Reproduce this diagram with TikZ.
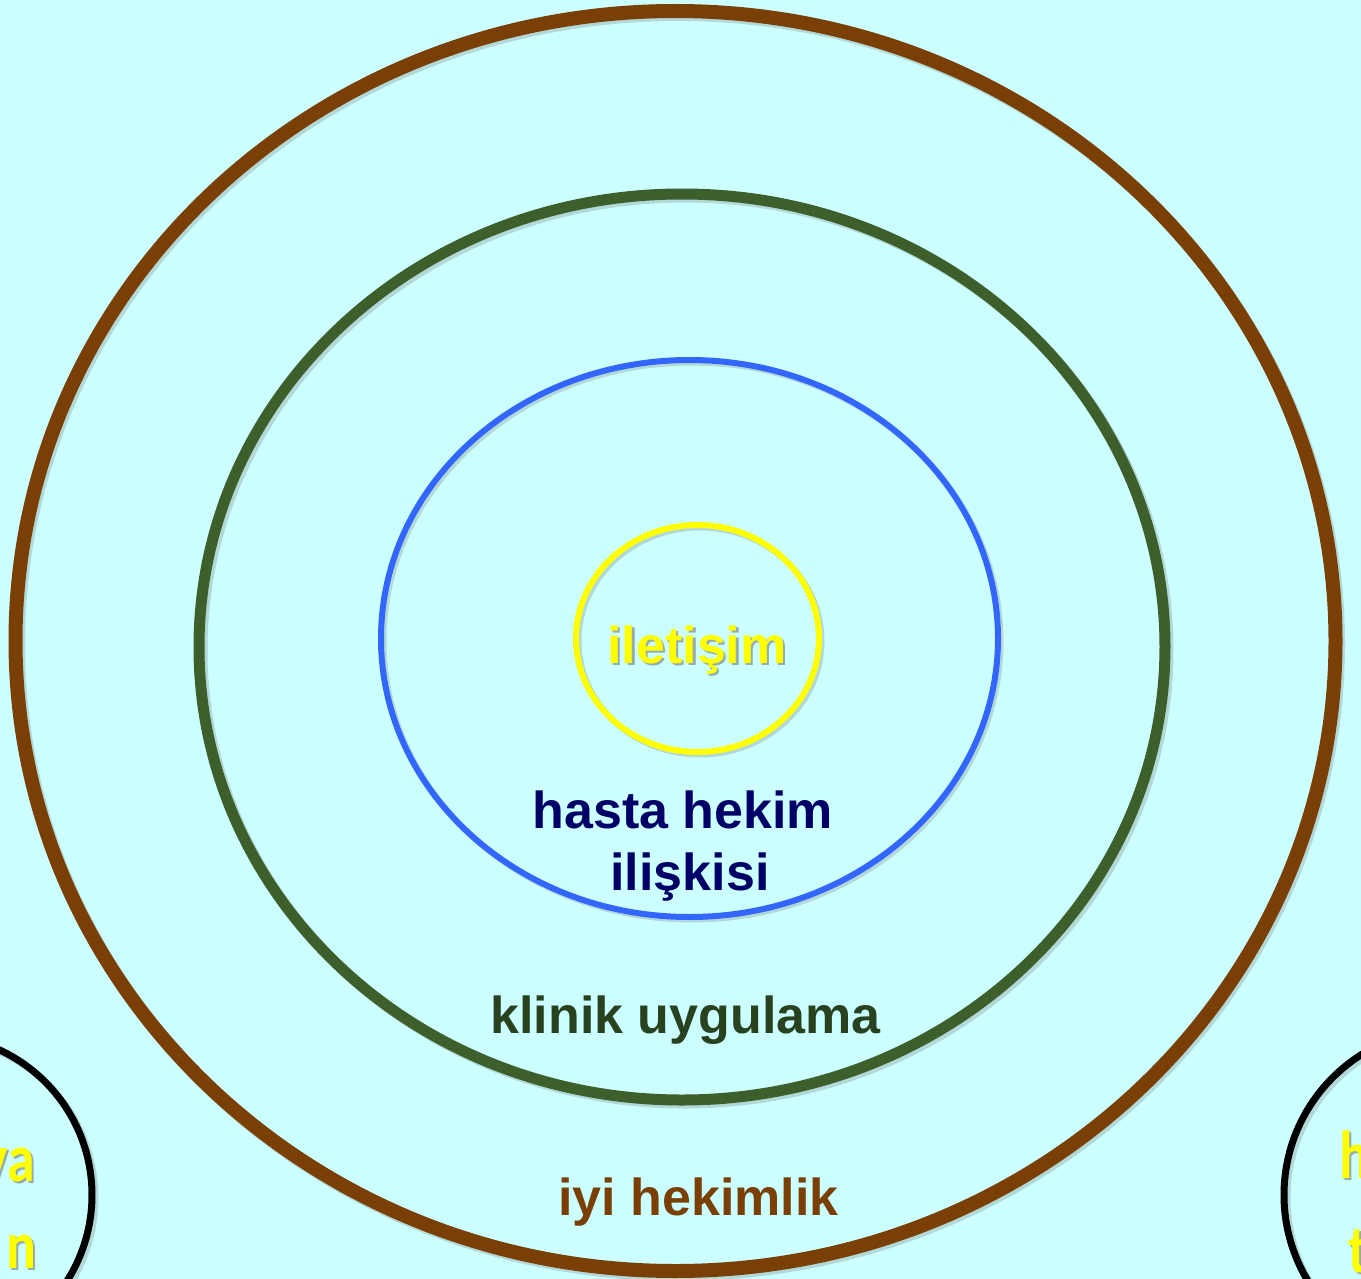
\documentclass[tikz,border=0pt]{standalone}
\usepackage{fontspec}
\setmainfont{Liberation Sans}
\newfontfamily\sidefont{Carlito}
\definecolor{bgcyan}{HTML}{CCFFFF}
\definecolor{ringbrown}{HTML}{793F05}
\definecolor{ringgreen}{HTML}{3D5F2C}
\definecolor{ringblue}{HTML}{3366FF}
\definecolor{ringyellow}{HTML}{FFFF00}
\definecolor{txtnavy}{HTML}{000066}
\definecolor{txtgreen}{HTML}{28421F}
\definecolor{txtbrown}{HTML}{793F05}
\begin{document}
\begin{tikzpicture}[x=1pt,y=-1pt,
  ringshadow/.style={draw=black!60,opacity=0.25},
  label/.style={font=\fontsize{52}{62}\selectfont\bfseries,anchor=base,inner sep=0pt},
  sidelabel/.style={font=\fontsize{68}{76}\sidefont\bfseries,text=ringyellow,inner sep=0pt,xscale=0.82},
  shade/.style={text=black!55,opacity=0.6}]
  % frame and background
  \fill[bgcyan] (0,0) rectangle (1361,1279);
  \useasboundingbox (0,0) rectangle (1361,1279);
  \clip (0,0) rectangle (1361,1279);

  % soft drop shadows under the rings
  \draw[ringshadow,line width=14pt] (678,644) ellipse [x radius=660,y radius=630];
  \draw[ringshadow,line width=11pt] (685,650) ellipse [x radius=483,y radius=453];
  \draw[ringshadow,line width=6pt] (692,641) ellipse [x radius=308.5,y radius=278.5];
  \draw[ringshadow,line width=6pt] (700,641) ellipse [x radius=121.5,y radius=113.5];
  \draw[ringshadow,line width=7pt] (-65,1198) circle [radius=160];
  \draw[ringshadow,line width=7pt] (1453,1198) circle [radius=166];

  % concentric rings
  \draw[ringbrown,line width=14pt] (675.5,641) ellipse [x radius=660,y radius=630];
  \draw[ringgreen,line width=11pt] (682,647) ellipse [x radius=483,y radius=453];
  \draw[ringblue,line width=6pt] (689.5,638.5) ellipse [x radius=308.5,y radius=278.5];
  \draw[ringyellow,line width=6pt] (697.5,638.5) ellipse [x radius=121.5,y radius=113.5];

  % neighbouring circles at the lower corners
  \draw[black,line width=7pt] (-68,1195) circle [radius=160];
  \draw[black,line width=7pt] (1450,1195) circle [radius=166];

  % labels
  \node[label,shade] at (699.5,665.5) {iletişim};
  \node[label,text=ringyellow] (core) at (697,663) {iletişim};
  \node[label,text=txtnavy] (rel1) at (683,828) {hasta hekim};
  \node[label,text=txtnavy] (rel2) at (690,890) {ilişkisi};
  \node[label,text=txtgreen] (clin) at (685.5,1033) {klinik uygulama};
  \node[label,text=txtbrown] (good) at (698.5,1215) {iyi hekimlik};

  % partly visible labels in the corner circles
  \node[sidelabel,shade,anchor=base east] at (37,1183.5) {ya};
  \node[sidelabel,anchor=base east] (leftA) at (35,1181) {ya};
  \node[sidelabel,shade,anchor=base east] at (39,1270.5) {n};
  \node[sidelabel,anchor=base east] (leftB) at (37,1268) {n};
  \node[sidelabel,shade,anchor=base west] at (1341,1180.5) {h};
  \node[sidelabel,anchor=base west] (rightA) at (1339,1178) {h};
  \node[sidelabel,shade,anchor=base west] at (1350,1274.5) {t};
  \node[sidelabel,anchor=base west] (rightB) at (1348,1272) {t};
\end{tikzpicture}
\end{document}
